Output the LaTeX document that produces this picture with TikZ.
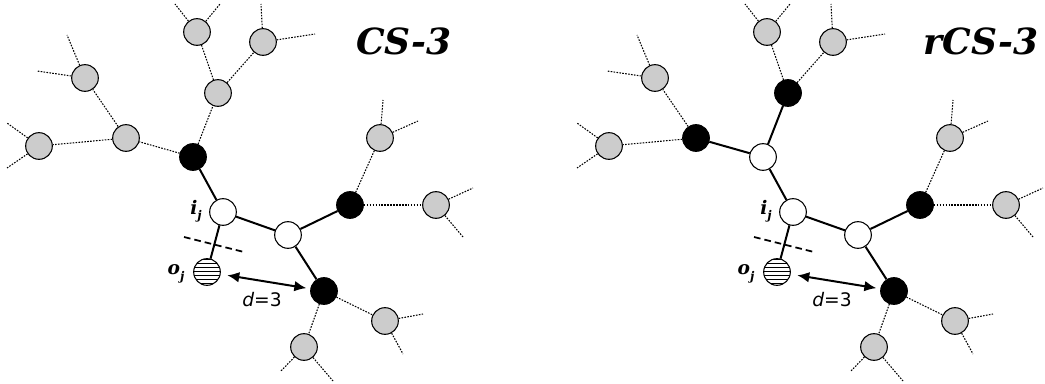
\documentclass[tikz,border=0pt]{standalone}
\usepackage{fontspec}
\newfontfamily\dvserif{DejaVu Serif}
\newfontfamily\dvsans{DejaVu Sans}
\usetikzlibrary{arrows.meta,patterns}
\tikzset{
  nd/.style={circle,draw=black,line width=0.8pt,minimum size=20pt,inner sep=0pt},
  graynode/.style={nd,fill=black!20},
  blacknode/.style={nd,fill=black},
  whitenode/.style={nd,fill=white},
  hatchnode/.style={nd,pattern=horizontal lines},
  solidedge/.style={line width=1.5pt},
  dotedge/.style={line width=0.8pt,dash pattern=on 1.2pt off 1pt,black},
  cutline/.style={line width=1.3pt,dash pattern=on 5pt off 3pt},
  distarrow/.style={line width=1.5pt,{Latex[length=9pt,width=8pt]}-{Latex[length=9pt,width=8pt]},shorten <=5pt,shorten >=3pt},
  lab/.style={font=\dvserif\bfseries\itshape\fontsize{14}{14}\selectfont,inner sep=0pt},
  titlelab/.style={font=\dvserif\bfseries\itshape\fontsize{27}{27}\selectfont,inner sep=0pt},
}
\newcommand\mytree[5]{%
  \node[#2] (#1n1) at (193,157) {};
  \node[whitenode] (#1ij) at (223,212) {};
  \node[whitenode] (#1w2) at (288,235) {};
  \node[blacknode] (#1b2) at (350,205) {};
  \node[graynode] (#1g7) at (436,205) {};
  \node[hatchnode] (#1oj) at (207,272) {};
  \node[blacknode] (#1b3) at (324,291) {};
  \node[graynode] (#1g8) at (385,321) {};
  \node[graynode] (#1g9) at (304,347) {};
  \node[graynode] (#1g10) at (380,138) {};
  \node[graynode] (#1g1) at (197,32) {};
  \node[graynode] (#1g2) at (263,42) {};
  \node[#4] (#1g3) at (218,93) {};
  \node[graynode] (#1g4) at (85,78) {};
  \node[#3] (#1g5) at (126,138) {};
  \node[graynode] (#1g6) at (39,146) {};
  \coordinate (#1s1a) at (175,4);  \coordinate (#1s1b) at (220,4);
  \coordinate (#1s2a) at (261,4);  \coordinate (#1s2b) at (315,34);
  \coordinate (#1s4a) at (67,35);  \coordinate (#1s4b) at (37,71);
  \coordinate (#1s6a) at (7,123);  \coordinate (#1s6b) at (7,168);
  \coordinate (#1s10a) at (383,100); \coordinate (#1s10b) at (418,121);
  \coordinate (#1s7a) at (473,188); \coordinate (#1s7b) at (463,237);
  \coordinate (#1s8a) at (423,314); \coordinate (#1s8b) at (403,354);
  \coordinate (#1s9a) at (281,371); \coordinate (#1s9b) at (333,381);
  \coordinate (#1cutA) at (184,237); \coordinate (#1cutB) at (244,252);
  \draw[solidedge] (#1n1) -- (#1ij);
  \draw[solidedge] (#1ij) -- (#1oj);
  \draw[solidedge] (#1ij) -- (#1w2);
  \draw[solidedge] (#1w2) -- (#1b2);
  \draw[solidedge] (#1w2) -- (#1b3);
  \draw[#5] (#1n1) -- (#1g5);
  \draw[#5] (#1n1) -- (#1g3);
  \draw[dotedge] (#1g5) -- (#1g4);
  \draw[dotedge] (#1g5) -- (#1g6);
  \draw[dotedge] (#1g3) -- (#1g1);
  \draw[dotedge] (#1g3) -- (#1g2);
  \draw[dotedge] (#1b2) -- (#1g10);
  \draw[dotedge] (#1b2) -- (#1g7);
  \draw[dotedge] (#1b3) -- (#1g8);
  \draw[dotedge] (#1b3) -- (#1g9);
  \draw[dotedge] (#1g1) -- (#1s1a); \draw[dotedge] (#1g1) -- (#1s1b);
  \draw[dotedge] (#1g2) -- (#1s2a); \draw[dotedge] (#1g2) -- (#1s2b);
  \draw[dotedge] (#1g4) -- (#1s4a); \draw[dotedge] (#1g4) -- (#1s4b);
  \draw[dotedge] (#1g6) -- (#1s6a); \draw[dotedge] (#1g6) -- (#1s6b);
  \draw[dotedge] (#1g10) -- (#1s10a); \draw[dotedge] (#1g10) -- (#1s10b);
  \draw[dotedge] (#1g7) -- (#1s7a); \draw[dotedge] (#1g7) -- (#1s7b);
  \draw[dotedge] (#1g8) -- (#1s8a); \draw[dotedge] (#1g8) -- (#1s8b);
  \draw[dotedge] (#1g9) -- (#1s9a); \draw[dotedge] (#1g9) -- (#1s9b);
  \draw[cutline] (#1cutA) -- (#1cutB);
  \draw[distarrow] (#1oj) -- (#1b3);
  \node[lab] (#1ijlab) at (196,211) {i\raisebox{-4pt}{\fontsize{9}{9}\selectfont j}};
  \node[lab] (#1ojlab) at (176,274) {o\raisebox{-4pt}{\fontsize{9}{9}\selectfont j}};
  \node[inner sep=0pt,font=\dvsans\fontsize{14}{14}\selectfont] (#1dlab) at (262,300) {{\itshape d}=3};
}
\begin{document}
\begin{tikzpicture}[x=0.75pt,y=-0.75pt]
  \useasboundingbox (0,0) rectangle (1045,384);
  \mytree{L}{blacknode}{graynode}{graynode}{dotedge}
  \begin{scope}[xshift=427.5pt]
    \mytree{R}{whitenode}{blacknode}{blacknode}{solidedge}
  \end{scope}
  \node[titlelab] (title1) at (404,41) {CS-3};
  \node[titlelab] (title2) at (981,41) {rCS-3};
\end{tikzpicture}
\end{document}
